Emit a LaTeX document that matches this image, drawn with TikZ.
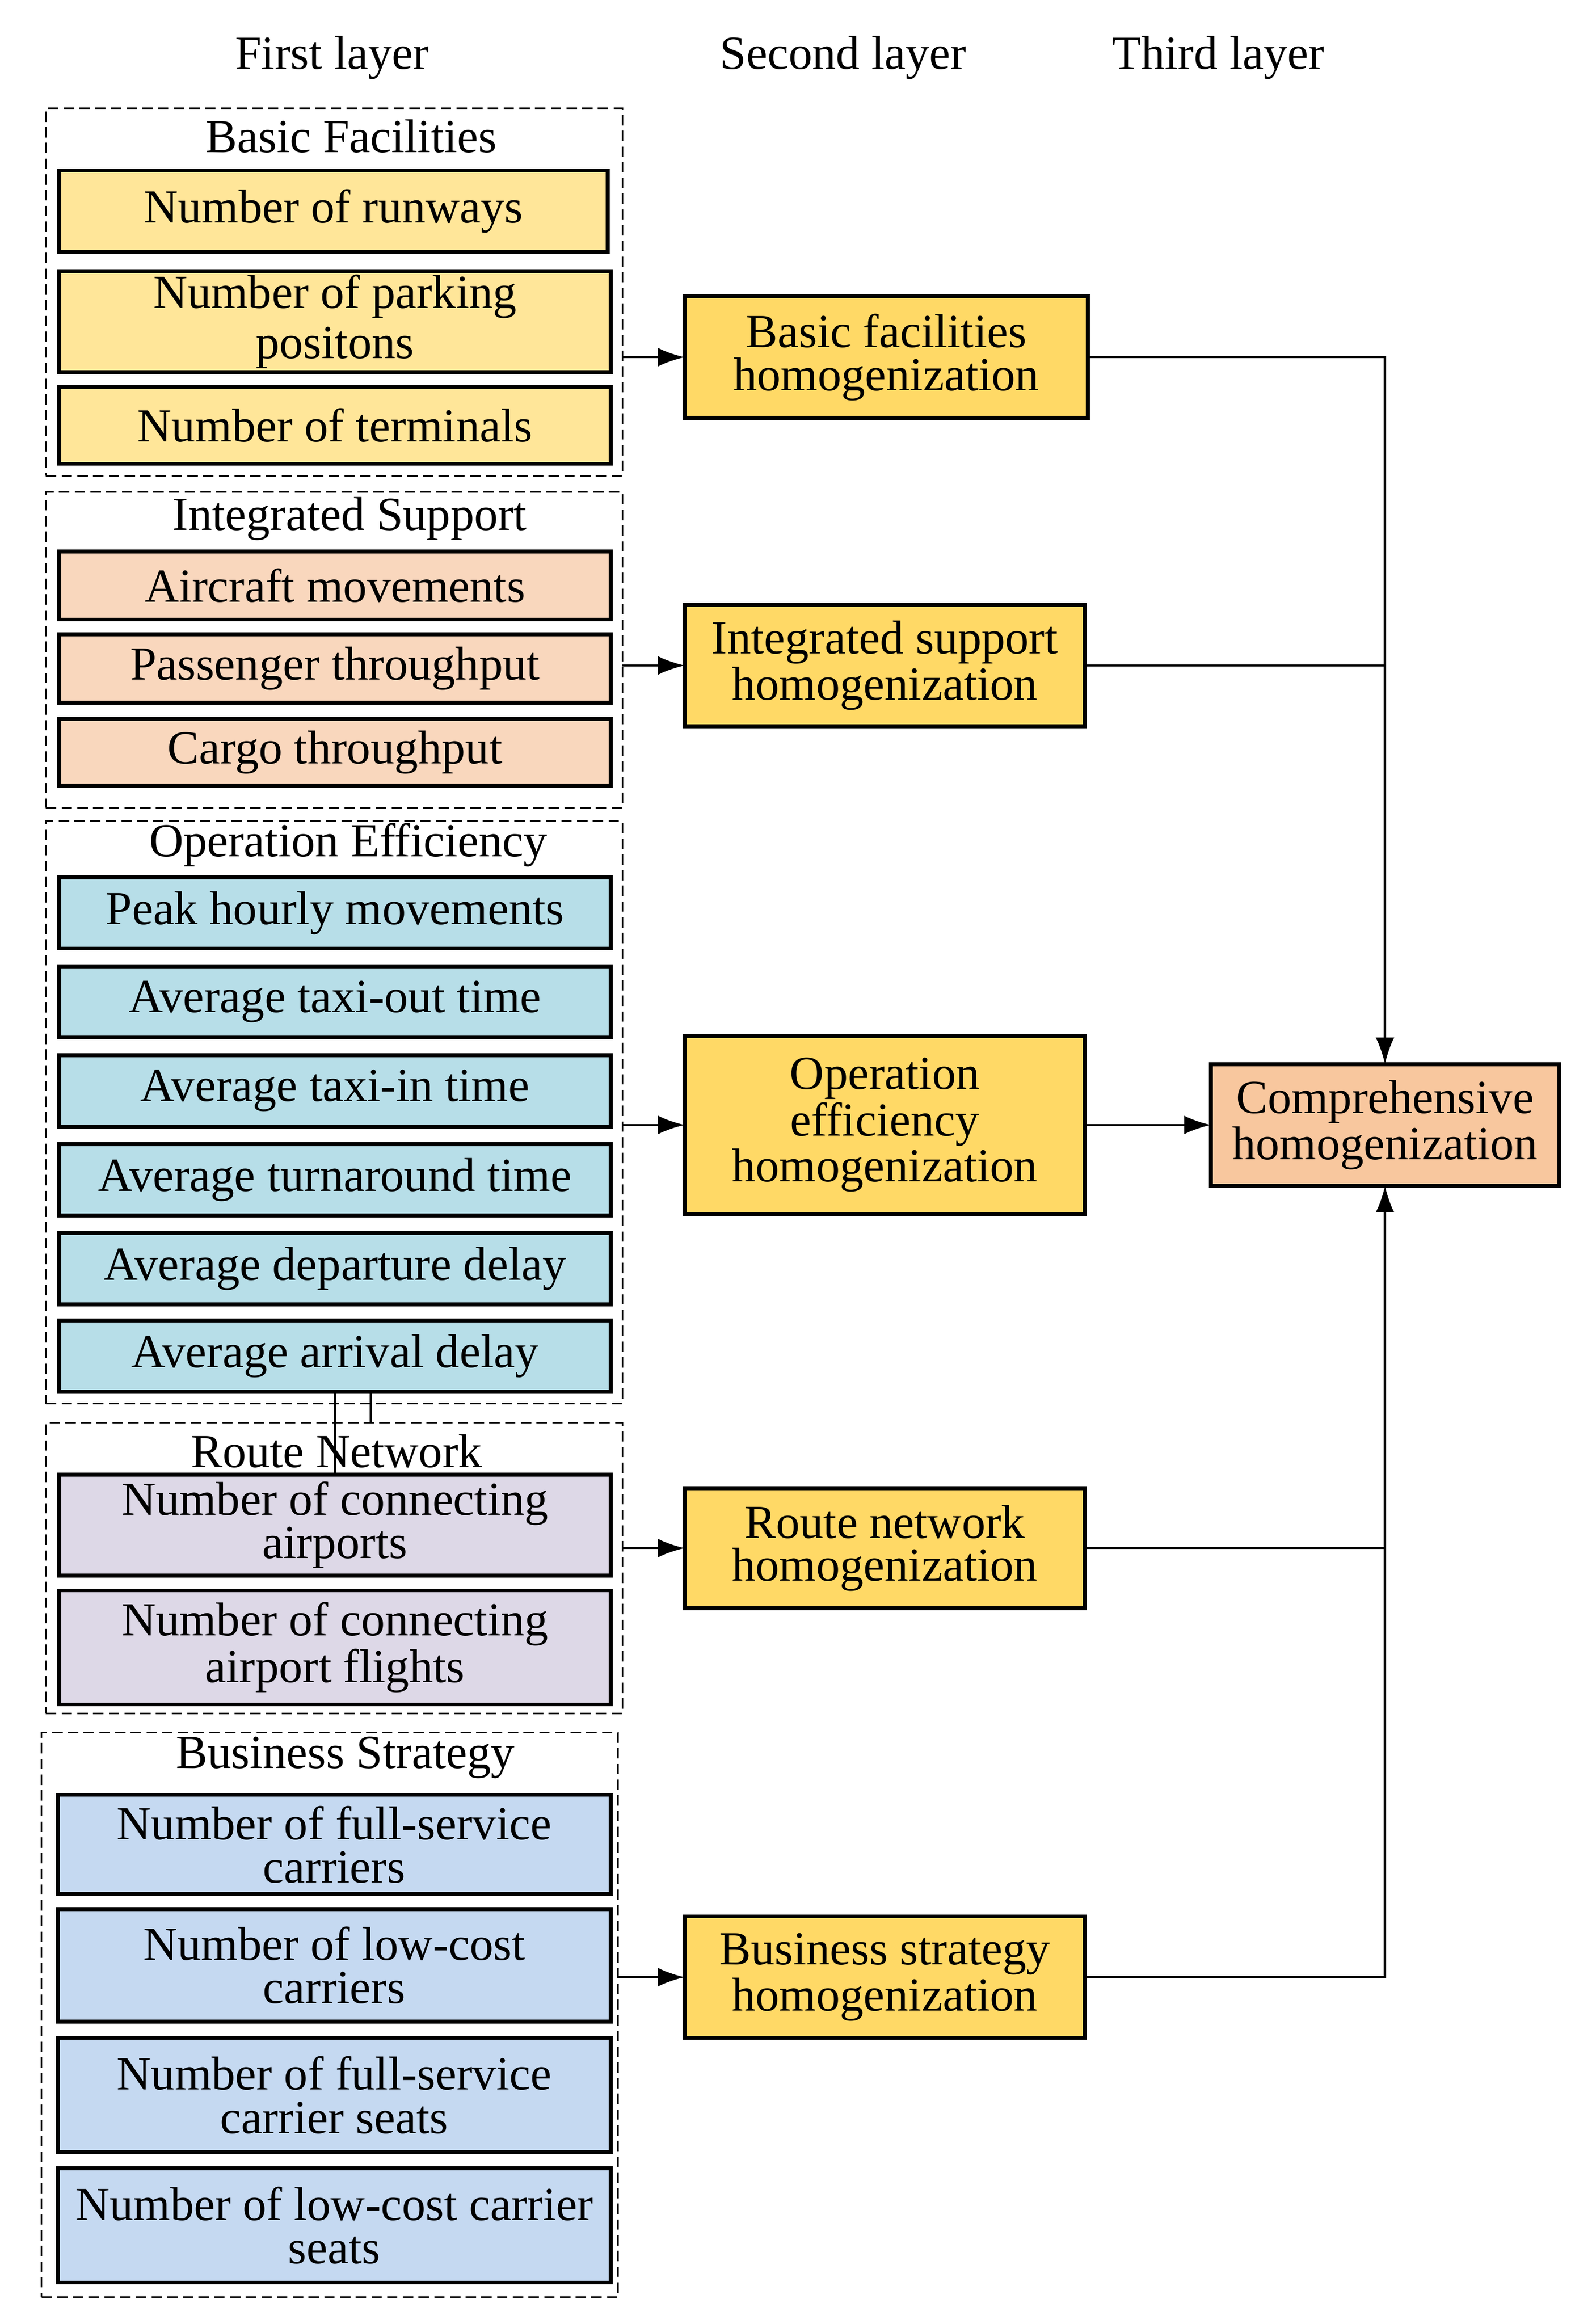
\documentclass[tikz,border=0pt]{standalone}
\usepackage{fontspec}
\setmainfont{Liberation Serif}
\usetikzlibrary{arrows.meta}
\definecolor{cBasic}{HTML}{FFE699}
\definecolor{cInteg}{HTML}{F9D7BD}
\definecolor{cOper}{HTML}{B7DEE8}
\definecolor{cRoute}{HTML}{DDD8E7}
\definecolor{cBus}{HTML}{C5D9F1}
\definecolor{cSecond}{HTML}{FFD966}
\definecolor{cComp}{HTML}{F8C79E}
\newcommand\cellnode[7]{\node[#1, minimum width={(#5-#3)*0.5pt}, minimum height={(#6-#4)*0.5pt}] (#2) at ({(#3+#5)/2},{(#4+#6)/2}) {#7};}
\begin{document}
\begin{tikzpicture}[x=0.5pt,y=-0.5pt,
  font=\fontsize{16}{14.5}\selectfont,
  cell/.style={draw, line width=1.3pt, inner sep=0pt, outer sep=0pt, align=center},
  tight/.style={font=\fontsize{16}{14.6}\selectfont},
  group/.style={draw, line width=0.5pt, dash pattern=on 3.5pt off 1.8pt, inner sep=0pt, outer sep=0pt},
  gtitle/.style={inner sep=0pt},
  conn/.style={line width=0.75pt},
  arr/.style={conn, -{Latex[length=9pt,width=6.3pt]}}]
\useasboundingbox (0,0) rectangle (1062.7,1568);

% headers
\node[gtitle] (hdA) at (224,39) {First layer};
\node[gtitle] (hdB) at (569,39) {Second layer};
\node[gtitle] (hdC) at (822,39) {Third layer};

% groups
\cellnode{group}{g1}{31}{73}{420}{321}{}
\cellnode{group}{g2}{31}{332}{420}{545}{}
\cellnode{group}{g3}{31}{554}{420}{947}{}
\cellnode{group}{g4}{31}{960}{420}{1156}{}
\cellnode{group}{g5}{28}{1169}{417}{1550}{}

\node[gtitle] (t1) at (237,92) {Basic Facilities};
\node[gtitle] (t2) at (236,350) {Integrated Support};
\node[gtitle] (t3) at (235,570) {Operation Efficiency};
\node[gtitle] (t4) at (227,979) {Route Network};
\node[gtitle] (t5) at (233,1186) {Business Strategy};

% first layer cells
\cellnode{cell,fill=cBasic}{b1}{40}{115}{410}{170}{Number of runways}
\cellnode{cell,fill=cBasic,font=\fontsize{16}{17}\selectfont}{b2}{40}{183}{412}{251}{Number of parking\\positons}
\cellnode{cell,fill=cBasic}{b3}{40}{261}{412}{313}{Number of terminals}

\cellnode{cell,fill=cInteg}{i1}{40}{372}{412}{418}{Aircraft movements}
\cellnode{cell,fill=cInteg}{i2}{40}{428}{412}{474}{Passenger throughput}
\cellnode{cell,fill=cInteg}{i3}{40}{485}{412}{530}{Cargo throughput}

\cellnode{cell,fill=cOper}{o1}{40}{592}{412}{640}{Peak hourly movements}
\cellnode{cell,fill=cOper}{o2}{40}{652}{412}{700}{Average taxi-out time}
\cellnode{cell,fill=cOper}{o3}{40}{712}{412}{760}{Average taxi-in time}
\cellnode{cell,fill=cOper}{o4}{40}{772}{412}{820}{Average turnaround time}
\cellnode{cell,fill=cOper}{o5}{40}{832}{412}{880}{Average departure delay}
\cellnode{cell,fill=cOper}{o6}{40}{891}{412}{939}{Average arrival delay}

\cellnode{cell,fill=cRoute,tight}{r1}{40}{995}{412}{1063}{Number of connecting\\airports}
\cellnode{cell,fill=cRoute,tight}{r2}{40}{1073}{412}{1150}{Number of connecting\\airport flights}

\cellnode{cell,fill=cBus,tight}{s1}{39}{1211}{412}{1278}{Number of full-service\\carriers}
\cellnode{cell,fill=cBus,tight}{s2}{39}{1288}{412}{1364}{Number of low-cost\\carriers}
\cellnode{cell,fill=cBus,tight}{s3}{39}{1375}{412}{1452}{Number of full-service\\carrier seats}
\cellnode{cell,fill=cBus,tight}{s4}{39}{1463}{412}{1540}{Number of low-cost carrier\\seats}

% second layer
\cellnode{cell,fill=cSecond}{h1}{462}{200}{734}{282}{Basic facilities\\homogenization}
\cellnode{cell,fill=cSecond}{h2}{462}{408}{732}{490}{Integrated support\\homogenization}
\cellnode{cell,fill=cSecond}{h3}{462}{699}{732}{819}{Operation\\efficiency\\homogenization}
\cellnode{cell,fill=cSecond}{h4}{462}{1004}{732}{1085}{Route network\\homogenization}
\cellnode{cell,fill=cSecond}{h5}{462}{1293}{732}{1375}{Business strategy\\homogenization}

% third layer
\cellnode{cell,fill=cComp}{comp}{817}{718}{1052}{800}{Comprehensive\\homogenization}

% connectors
\draw[arr] (g1.east |- h1.west) -- (h1.west);
\draw[arr] (g2.east |- h2.west) -- (h2.west);
\draw[arr] (g3.east |- h3.west) -- (h3.west);
\draw[arr] (g4.east |- h4.west) -- (h4.west);
\draw[arr] (g5.east |- h5.west) -- (h5.west);

\draw[arr] (h1.east) -| (comp.north);
\draw[conn] (h2.east) -- (h2.east -| comp.north);
\draw[arr] (h3.east) -- (comp.west);
\draw[conn] (h4.east) -- (h4.east -| comp.south);
\draw[arr] (h5.east) -| (comp.south);

% stray lines between groups
\draw[conn] (o6.south) -- (r1.north);
\draw[conn] ([xshift=12pt]o6.south) -- ([xshift=12pt]o6.south |- g4.north);
\end{tikzpicture}
\end{document}
